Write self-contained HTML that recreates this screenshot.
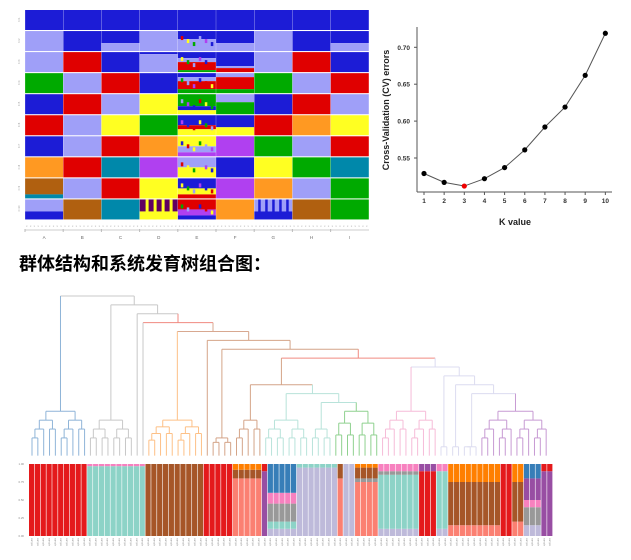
<!DOCTYPE html>
<html><head><meta charset="utf-8"><style>
html,body{margin:0;padding:0;background:#fff;width:631px;height:560px;overflow:hidden}
svg{position:absolute;left:0;top:0}
</style></head><body>
<svg id="s" width="631" height="560" xmlns="http://www.w3.org/2000/svg" font-family="Liberation Sans, sans-serif">
<text x="19" y="270" font-size="18" font-weight="bold" font-family="Liberation Sans, Noto Sans CJK SC, sans-serif">群体结构和系统发育树组合图：</text>
<g id="cv">
<line x1="417" y1="27" x2="417" y2="192" stroke="#555" stroke-width="1"/>
<line x1="417" y1="192" x2="612" y2="192" stroke="#555" stroke-width="1"/>
<text x="-110" y="389" transform="rotate(-90)" text-anchor="middle" font-size="9" font-weight="bold" fill="#222">Cross-Validation (CV) errors</text>
<text x="515" y="225" text-anchor="middle" font-size="9" font-weight="bold" fill="#222">K value</text>
</g>
</svg>
<script>
const s=document.getElementById('s');const NS='http://www.w3.org/2000/svg';
function el(t,a,p){const e=document.createElementNS(NS,t);for(const k in a)e.setAttribute(k,a[k]);(p||s).appendChild(e);return e;}
function tx(x,y,str,a){const e=el('text',Object.assign({x:x,y:y},a));e.textContent=str;return e;}
// CV chart
const vals=[0.529,0.517,0.512,0.522,0.537,0.561,0.592,0.619,0.662,0.719];
const X=k=>424+(k-1)*20.15, Y=v=>47.3+(0.70-v)/0.05*36.9;
el('polyline',{points:vals.map((v,i)=>X(i+1)+','+Y(v)).join(' '),fill:'none',stroke:'#555','stroke-width':1});
vals.forEach((v,i)=>{el('circle',{cx:X(i+1),cy:Y(v),r:2.6,fill:i==2?'#e00':'#000'});
 tx(X(i+1),203,String(i+1),{'font-size':6.5,'text-anchor':'middle','font-weight':'bold',fill:'#333'});
 el('line',{x1:X(i+1),x2:X(i+1),y1:192,y2:195,stroke:'#555'});});
[0.55,0.60,0.65,0.70].forEach(v=>{tx(410,Y(v)+2.5,v.toFixed(2),{'font-size':6.5,'text-anchor':'end','font-weight':'bold',fill:'#333'});el('line',{x1:414,x2:417,y1:Y(v),y2:Y(v),stroke:'#555'});});
// structure grid
const C={B:'#1c1cd6',L:'#9f9ff8',R:'#e00000',G:'#00aa00',Y:'#ffff22',O:'#ff9922',P:'#b040f0',T:'#0088aa',N:'#b06010',D:'#600060'};
const rows=[
'B|B|B|B|B|B|B|B|B',
'L|B|B6L4|L|B4L6|B6L4|L|B|B6L4',
'L|R|B|B1L9|B3L2R4G1|B7L1R2|L|R|B',
'G|L|R|B|B2L2R4G2|L2R6G2|G|L|R',
'B|R|L|Y|G6B2Y2|L4G6|B|R|L',
'R|L|Y|G|B5R2Y3|B6Y4|R|O|Y',
'B|L|R|O|Y5L3P2|P|G|L|R',
'O|R|T|P|L5Y5|B|Y|G|T',
'N8T2|L|R|Y|B5Y3R2|P|O|L|G',
'L6B4|N|T|D6Y4|R5P3B2|O|L6B4|N|G'];
const x0=25,cw=38.2;
rows.forEach((r,i)=>{const top=10+i*21.05,h=20;r.split('|').forEach((c,j)=>{
 const m=c.match(/[A-Z]\d*/g);let y=top;
 m.forEach(p=>{const col=C[p[0]];const f=p.length>1?+p.slice(1)/10:1;el('rect',{x:x0+j*cw,y:y,width:cw,height:h*f,fill:col});y+=h*f;});
 el('line',{x1:x0+j*cw,x2:x0+j*cw,y1:top,y2:top+h,stroke:'#fff','stroke-width':0.4,opacity:0.6});
});tx(20,top+12,'K='+(i+1),{'font-size':2.5,fill:'#999',transform:`rotate(-90 20 ${top+12})`});});
// texture stripes in column E & G
for(let i=1;i<10;i++){for(let k=0;k<6;k++){el('rect',{x:x0+4*cw+3+k*6,y:10+i*21.05+5+(k%3)*3,width:2.5,height:4,fill:['#1c1cd6','#e00000','#ffff22','#00aa00','#9f9ff8','#b040f0'][(i+k)%6]});}}
for(let k=0;k<5;k++)el('rect',{x:x0+6*cw+4+k*7,y:199.5,width:2.5,height:19,fill:'#1c1cd6'});
for(let k=0;k<4;k++)el('rect',{x:x0+3*cw+6+k*8,y:199.5,width:3,height:20,fill:'#ffff22'});
for(let k=0;k<90;k++)tx(25+k*3.82+1,227,'x',{'font-size':3,fill:'#aaa'});
el('line',{x1:25,x2:369,y1:230,y2:230,stroke:'#bbb','stroke-width':0.8});
'ABCDEFGHI'.split('').forEach((l,j)=>{tx(x0+j*cw+cw/2,239,l,{'font-size':4.5,'text-anchor':'middle',fill:'#666'});el('line',{x1:x0+j*cw,x2:x0+j*cw,y1:229,y2:232,stroke:'#bbb'});});
// bars
const P={R:'#e41a1c',T:'#8dd3c7',N:'#a65628',S:'#fb8072',V:'#bebada',U:'#984ea3',O:'#ff7f00',K:'#f781bf',G:'#999999',B:'#377eb8',E:'#4daf4a'};
const groups=[[10,'R'],[10,'T97K3'],[10,'N'],[5,'R'],[5,'S80N12O8'],[1,'U90R10'],[5,'V10T10G25K15B40'],[7,'V95T5'],[1,'S80N20'],[2,'V'],[4,'S75G5N15O5'],[7,'V10T75G5K10'],[3,'R90U10'],[2,'V10T80K10'],[9,'S15N60O25'],[2,'R'],[2,'S20N55O25'],[3,'V15G25K10U30B20'],[2,'U90R10']];
const bx0=29,bw=(553-29)/90,bt=464,bb=536;let bi=0;
groups.forEach(([n,sp])=>{for(let q=0;q<n;q++){const m=sp.match(/[A-Z]\d*/g);let y=bb;
 m.forEach(p=>{const f=p.length>1?+p.slice(1)/100:1;const hh=(bb-bt)*f;el('rect',{x:bx0+bi*bw,y:y-hh,width:bw-0.6,height:hh,fill:P[p[0]]});y-=hh;});
 tx(bx0+bi*bw+2,538,'sample',{'font-size':2.5,fill:'#999',transform:`rotate(90 ${bx0+bi*bw+2} 538)`});bi++;}});
[0,0.25,0.5,0.75,1].forEach(v=>{const y=bb-(bb-bt)*v;tx(24,y+1,v.toFixed(2),{'font-size':2.8,'text-anchor':'end',fill:'#888'});});
// dendrogram
const LY=l=>296+l*8.87;let leaf=0;const lx0=32,ldx=(552-32)/89;
function bal(n,h,col){return {n:n,h:h,col:col,bal:true};}
function node(h,col,c){return {h:h,col:col,c:c};}
function draw(t){ // returns [x,level]
 if(t.bal){ return drawBal(t.n,t.h,t.col);} 
 const r=t.c.map(draw);const xs=r.map(a=>a[0]);const y=LY(t.h);
 el('line',{x1:Math.min(...xs),x2:Math.max(...xs),y1:y,y2:y,stroke:t.col,'stroke-width':1});
 r.forEach(([x,l],i)=>el('line',{x1:x,x2:x,y1:y,y2:LY(l),stroke:t.c[i].col||t.col,'stroke-width':1}));
 return [(xs[0]+xs[xs.length-1])/2,t.h];}
function drawBal(n,h,col){
 if(n==1){const x=lx0+leaf*ldx;leaf++;return [x,18];}
 const a=Math.ceil(n/2),b=n-a;const steps=Math.ceil(Math.log2(n));const ch=Math.min(17,h+(17-h)/steps);
 const r1=drawBal(a,a==1?18:ch,col),r2=drawBal(b,b==1?18:ch,col);const y=LY(h);
 el('line',{x1:r1[0],x2:r2[0],y1:y,y2:y,stroke:col});
 [r1,r2].forEach(([x,l])=>el('line',{x1:x,x2:x,y1:y,y2:LY(l),stroke:col}));
 return [(r1[0]+r2[0])/2,h];}
const g='#c8c8c8';
const tree=node(0,g,[bal(10,13,'#8fb4d8'),node(1,g,[bal(8,14,g),node(2,g,[bal(1,18,g),node(3,'#f08a80',[bal(1,18,g),node(4,'#d8a890',[bal(10,14,'#fdc086'),node(5,'#d4a488',[bal(1,18,'#d4a488'),node(6,'#d4a488',[bal(4,16,'#d4a488'),node(7,'#f08a80',[
 node(10,'#d4a488',[bal(5,14,'#d4a488'),node(11,'#b8e3da',[bal(8,14,'#b8e3da'),node(12,'#b8e3da',[bal(4,15,'#b8e3da'),bal(8,13,'#8fd18f')])])]),
 node(8,'#dcdcf0',[bal(10,13,'#f6bcd8'),node(9,'#dcdcf0',[bal(2,17,'#dcdcf0'),node(10,'#dcdcf0',[bal(2,17,'#dcdcf0'),node(11,'#dcdcf0',[bal(3,17,'#dcdcf0'),bal(12,13,'#c79ad3')])])])])
])])])])])])])]);
draw(tree);
</script>
</body></html>
